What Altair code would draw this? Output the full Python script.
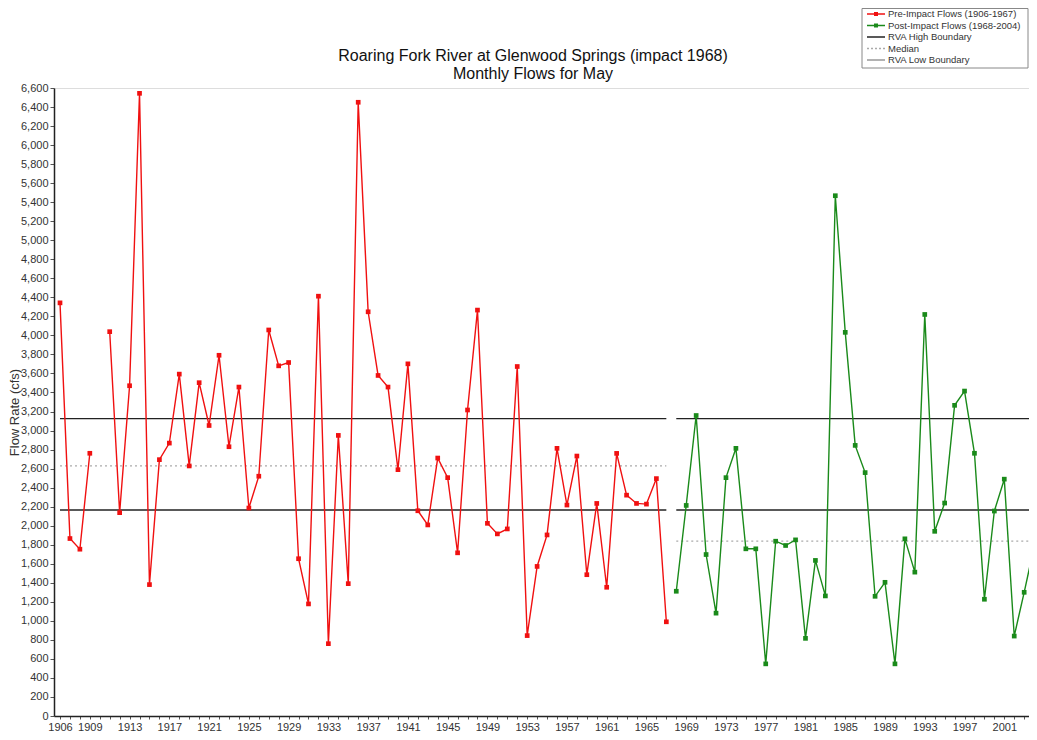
import altair as alt
import pandas as pd

# ---------------- data ----------------
pre_years = [1906, 1907, 1908, 1909,
             1911, 1912, 1913, 1914, 1915, 1916, 1917, 1918, 1919, 1920,
             1921, 1922, 1923, 1924, 1925, 1926, 1927, 1928, 1929, 1930,
             1931, 1932, 1933, 1934, 1935, 1936, 1937, 1938, 1939, 1940,
             1941, 1942, 1943, 1944, 1945, 1946, 1947, 1948, 1949, 1950,
             1951, 1952, 1953, 1954, 1955, 1956, 1957, 1958, 1959, 1960,
             1961, 1962, 1963, 1964, 1965, 1966, 1967]
pre_values = [4342, 1865, 1753, 2761,
              4039, 2137, 3471, 6544, 1381, 2694, 2868, 3593, 2628, 3503,
              3053, 3791, 2830, 3457, 2186, 2520, 4057, 3680, 3715, 1653,
              1178, 4412, 760, 2949, 1391, 6450, 4248, 3579, 3457, 2589,
              3701, 2157, 2008, 2711, 2505, 1715, 3216, 4266, 2025, 1914,
              1966, 3673, 845, 1572, 1903, 2813, 2217, 2732, 1485, 2234,
              1353, 2760, 2321, 2234, 2227, 2495, 990]
pre_segment = ["a"] * 4 + ["b"] * 57

post_years = [1968, 1969, 1970, 1971, 1972, 1973, 1974, 1975, 1976, 1977,
              1978, 1979, 1980, 1981, 1982, 1983, 1984, 1985, 1986, 1987,
              1988, 1989, 1990, 1991, 1992, 1993, 1994, 1995, 1996, 1997,
              1998, 1999, 2000, 2001, 2002, 2003, 2004]
post_values = [1311, 2213, 3158, 1697, 1081, 2505, 2813, 1757, 1757, 548,
               1837, 1792, 1851, 816, 1635, 1262, 5468, 4032, 2844, 2558,
               1258, 1405, 548, 1862, 1512, 4220, 1941, 2238, 3265, 3415,
               2761, 1227, 2154, 2489, 840, 1300, 1780]

rva_high = 3126
rva_low = 2165
median_pre = 2628
median_post = 1837
period_start = [1906, 1968]
period_end = [1967, 2004]

x_label_years = [1906, 1909, 1913, 1917, 1921, 1925, 1929, 1933, 1937, 1941,
                 1945, 1949, 1953, 1957, 1961, 1965, 1969, 1973, 1977, 1981,
                 1985, 1989, 1993, 1997, 2001]

title_lines = ["Roaring Fork River at Glenwood Springs (impact 1968)",
               "Monthly Flows for May"]
legend_labels = ["Pre-Impact Flows (1906-1967)",
                 "Post-Impact Flows (1968-2004)",
                 "RVA High Boundary",
                 "Median",
                 "RVA Low Boundary"]

# ---------------- tables ----------------
pre_df = pd.DataFrame({"year": pre_years, "flow": pre_values, "seg": pre_segment})
post_df = pd.DataFrame({"year": post_years, "flow": post_values})
bound_df = pd.DataFrame({
    "start": period_start * 2,
    "end": period_end * 2,
    "value": [rva_high, rva_high, rva_low, rva_low],
})
median_df = pd.DataFrame({
    "start": period_start,
    "end": period_end,
    "value": [median_pre, median_post],
})

FONT = "Liberation Sans"
RED = "#f01010"
GREEN = "#1a8a1a"

W, H = 975, 628
xscale = alt.Scale(domain=[1905.396, 2003.486], nice=False, zero=False)
yscale = alt.Scale(domain=[0, 6600], nice=False, zero=True)

label_list = ",".join(str(v) for v in x_label_years)
xaxis = alt.Axis(
    values=list(range(1906, 2005)),
    labelExpr="indexof([" + label_list + "], datum.value) >= 0 ? '' + datum.value : ''",
    labelOverlap=False, labelFlush=False, labelBound=False,
    tickSize=3, tickColor="#555", domainColor="#222", domainWidth=1.5,
    labelFont=FONT, labelFontSize=11, labelColor="#333", labelPadding=2,
    grid=False, title=None,
)
yaxis = alt.Axis(
    values=list(range(0, 6601, 200)), format=",d",
    tickSize=4, tickColor="#555", domainColor="#222", domainWidth=1.5,
    labelFont=FONT, labelFontSize=11, labelColor="#333", labelPadding=2,
    grid=False, title="Flow Rate (cfs)", titleFont=FONT, titleFontSize=13,
    titleFontWeight="normal", titleColor="#333",
    titleX=-33, titleY=324, titleAlign="center", titleBaseline="bottom",
    titleAngle=270,
)


def X(field):
    return alt.X(field, type="quantitative", scale=xscale, axis=xaxis)


def Y(field):
    return alt.Y(field, type="quantitative", scale=yscale, axis=yaxis)


bounds = alt.Chart(bound_df).mark_rule(color="#222", strokeWidth=1.3, clip=True).encode(
    x=X("start"), x2="end", y=Y("value"))
medians = alt.Chart(median_df).mark_rule(color="#aaaaaa", strokeWidth=1.3,
                                         strokeDash=[2, 3], clip=True).encode(
    x=X("start"), x2="end", y=Y("value"))

pre_line = alt.Chart(pre_df).mark_line(color=RED, strokeWidth=1.4, clip=True).encode(
    x=X("year"), y=Y("flow"), detail="seg:N")
pre_pts = alt.Chart(pre_df).mark_point(shape="square", filled=True, color=RED,
                                       size=22, opacity=1, clip=True).encode(
    x=X("year"), y=Y("flow"))
post_line = alt.Chart(post_df).mark_line(color=GREEN, strokeWidth=1.4, clip=True).encode(
    x=X("year"), y=Y("flow"))
post_pts = alt.Chart(post_df).mark_point(shape="square", filled=True, color=GREEN,
                                         size=22, opacity=1, clip=True).encode(
    x=X("year"), y=Y("flow"))

one = pd.DataFrame({"k": [0]})

# ---------------- title (two centred lines above the plot) ----------------
title_layers = [
    alt.Chart(one).mark_text(text=t, align="center", baseline="middle", font=FONT,
                             fontSize=16, color="#111").encode(
        x=alt.value(479), y=alt.value(yy))
    for t, yy in zip(title_lines, [-32, -14])
]

# ---------------- legend (drawn manually, top-right) ----------------
LX0, LX1 = 808, 974        # box, plot-relative pixels
LY0, LY1 = -79.5, -20
SX0, SX1, TX = 813, 831, 834
rows_y = [-74, -62.5, -51, -39.5, -28]
sym_styles = [
    dict(color=RED, dash=None, marker=True),
    dict(color=GREEN, dash=None, marker=True),
    dict(color="#222", dash=None, marker=False),
    dict(color="#aaaaaa", dash=[2, 2], marker=False),
    dict(color="#999999", dash=None, marker=False),
]

legend_layers = [
    alt.Chart(one).mark_rect(fill="white", stroke="#888", strokeWidth=1).encode(
        x=alt.value(LX0), x2=alt.value(LX1), y=alt.value(LY0), y2=alt.value(LY1))
]
for label, yy, st in zip(legend_labels, rows_y, sym_styles):
    rule_kwargs = dict(color=st["color"], strokeWidth=1.5)
    if st["dash"]:
        rule_kwargs["strokeDash"] = st["dash"]
    legend_layers.append(
        alt.Chart(one).mark_rule(**rule_kwargs).encode(
            x=alt.value(SX0), x2=alt.value(SX1), y=alt.value(yy)))
    if st["marker"]:
        legend_layers.append(
            alt.Chart(one).mark_point(shape="square", filled=True, color=st["color"],
                                      size=16, opacity=1).encode(
                x=alt.value((SX0 + SX1) / 2), y=alt.value(yy)))
    legend_layers.append(
        alt.Chart(one).mark_text(text=label, align="left", baseline="middle",
                                 font=FONT, fontSize=9.5, color="#333").encode(
            x=alt.value(TX), y=alt.value(yy)))

chart = alt.layer(
    bounds, medians, pre_line, pre_pts, post_line, post_pts,
    *title_layers, *legend_layers
).properties(
    width=W,
    height=H,
    autosize=alt.AutoSizeParams(type="none"),
    padding={"left": 46, "top": 80, "right": 0, "bottom": 16},
).configure_view(
    stroke="#444", strokeWidth=1.3
).configure(background="white")

chart.save("out.html", embed_options={"renderer": "svg", "actions": False})
